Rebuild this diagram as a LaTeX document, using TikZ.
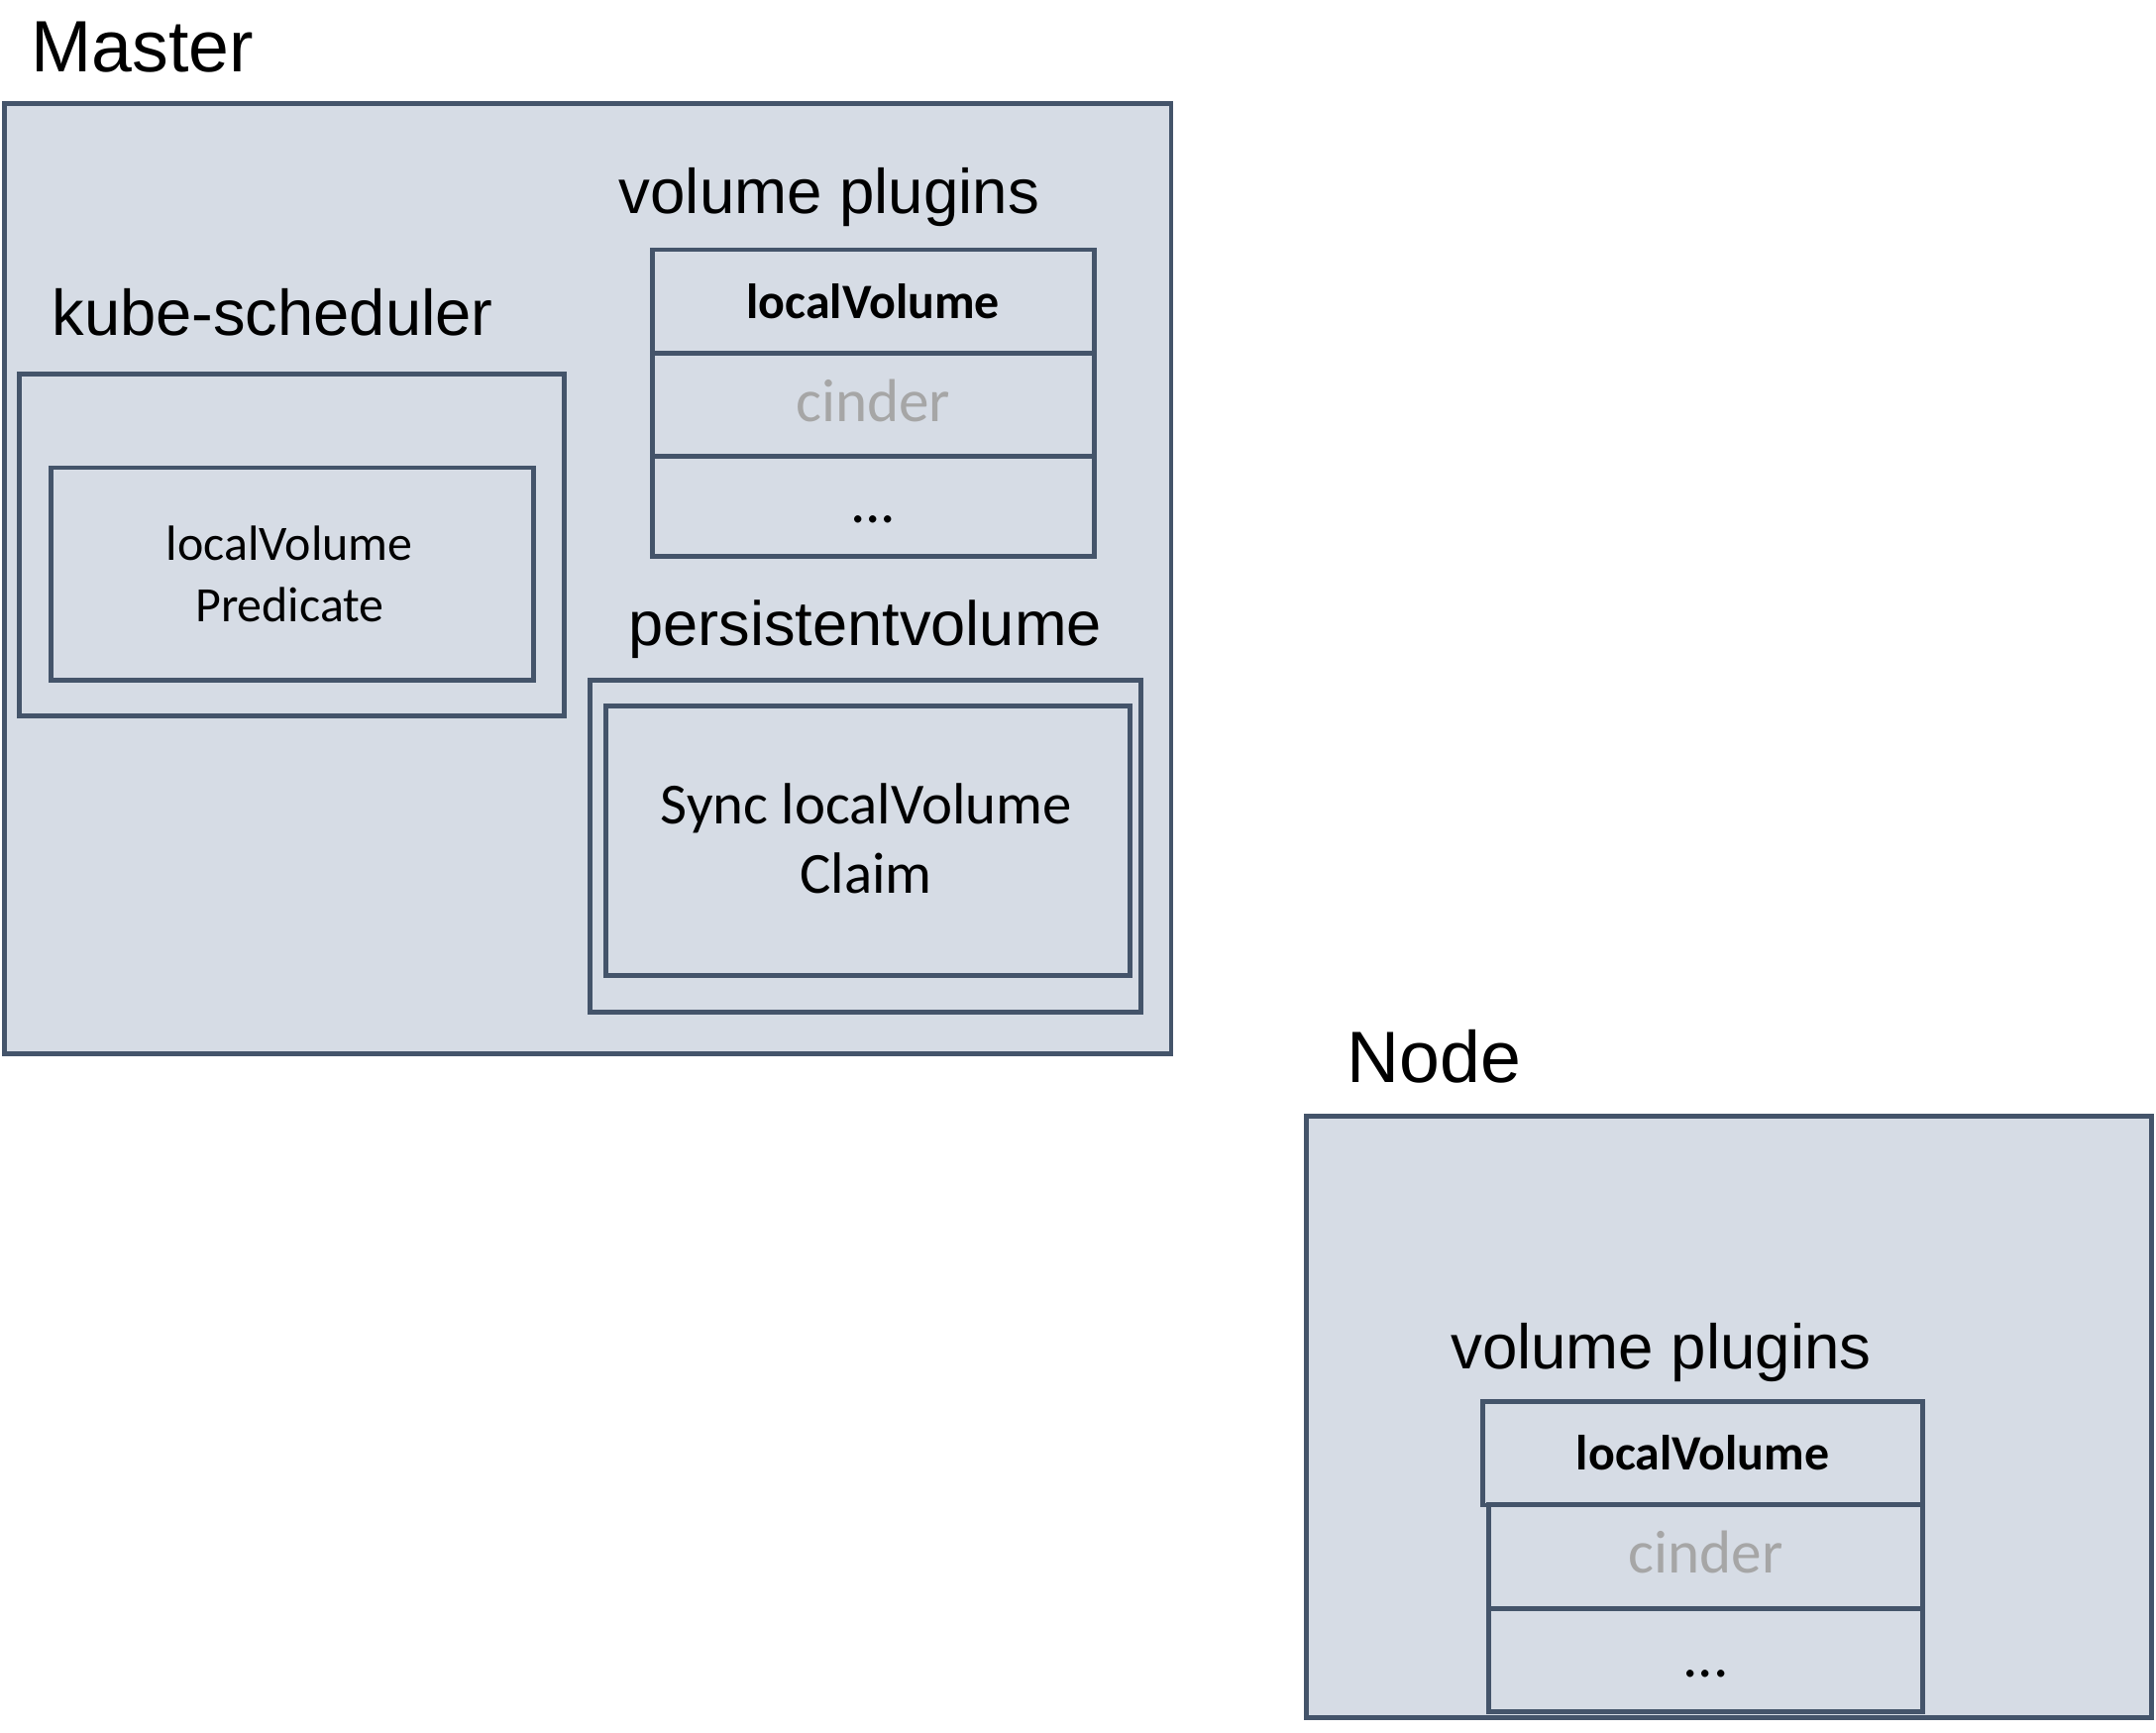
\documentclass[tikz,border=0pt]{standalone}
\usepackage{fontspec}
\setmainfont{Liberation Sans}
\newfontfamily\calfont{Carlito}
\definecolor{boxfill}{HTML}{D6DCE5}
\definecolor{boxline}{HTML}{44546A}
\definecolor{greytext}{HTML}{A6A6A6}
\tikzset{
  box/.style={draw=boxline, line width=1pt},
  frame/.style={box, fill=boxfill},
  title/.style={anchor=base west, inner sep=0pt, font=\fontsize{15}{18}\selectfont},
  heading/.style={anchor=base west, inner sep=0pt, font=\fontsize{13}{16}\selectfont},
  cell/.style={box, minimum width=3.2cm, minimum height=0.75cm, inner sep=0pt,
    text height=1.6ex, text depth=0.3ex, font=\calfont\fontsize{12.5}{15}\selectfont},
  head cell/.style={cell, font=\calfont\bfseries\fontsize{10.2}{13}\selectfont},
  grey cell/.style={cell, text=greytext},
}
\begin{document}
\begin{tikzpicture}[x=0.01cm,y=-0.01cm]
	\useasboundingbox (0,0) rectangle (1563,1256);
	% master
	\node[title] (master) at (22,52) {Master};
	\draw[frame] (3,75) rectangle (849,764);
	\node[heading, font=\fontsize{13.3}{16}\selectfont] (sched) at (37,243) {kube-scheduler};
	\draw[box] (14,271) rectangle (409,519);
	\draw[box] (37,339) rectangle (387,493);
	\node[align=center, font=\calfont\fontsize{10.2}{12.8}\selectfont] (pred) at (210,416) {localVolume\\Predicate};
	\node[heading] (mplug) at (448,155) {volume plugins};
	\node[head cell] (mlocal) at (633,218.5) {localVolume};
	\node[grey cell] (mcinder) at (633,293.5) {cinder};
	\node[cell, minimum height=0.72cm] (mdots) at (633,367) {...};
	\node[heading, font=\fontsize{12.9}{16}\selectfont] (pv) at (455,468) {persistentvolume};
	\draw[box] (428,493) rectangle (827,734);
	\draw[box] (439,512) rectangle (819,707);
	\node[align=center, font=\calfont\fontsize{12}{14.2}\selectfont] (sync) at (628,608) {Sync localVolume\\Claim};
	% node
	\node[title] (node) at (976,785) {Node};
	\draw[frame] (947,809) rectangle (1560,1245);
	\node[heading] (nplug) at (1051,992) {volume plugins};
	\node[head cell, minimum width=3.19cm] (nlocal) at (1234.5,1053.5) {localVolume};
	\node[grey cell, minimum width=3.15cm] (ncinder) at (1236.5,1128.5) {cinder};
	\node[cell, minimum width=3.15cm] (ndots) at (1236.5,1203.5) {...};
\end{tikzpicture}
\end{document}
